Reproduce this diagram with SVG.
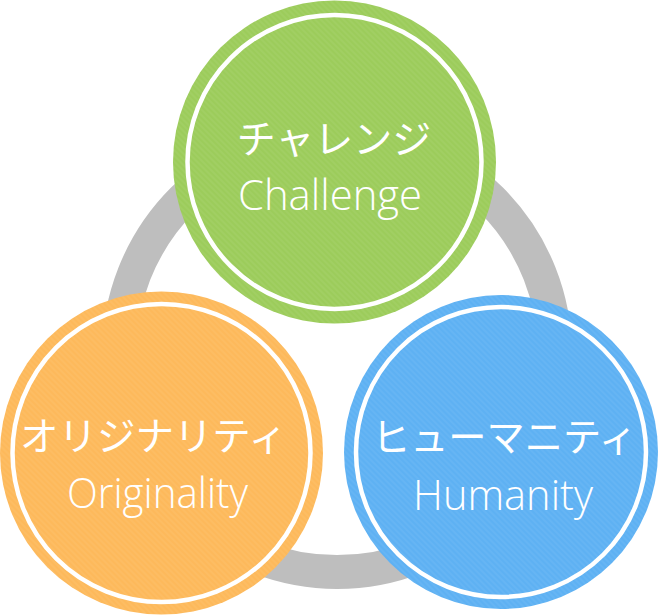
<svg xmlns="http://www.w3.org/2000/svg" width="666" height="616" viewBox="0 0 666 616">
  <style>
    .ring { fill: none; stroke: #bebebe; stroke-width: 34; }
    .inner { fill: none; stroke: #ffffff; stroke-width: 4.5; }
    .jp { font-family: "Noto Sans CJK JP", "Noto Sans", sans-serif; font-size: 39px; fill: #ffffff; text-anchor: middle; }
    .en { font-family: "Open Sans", "Liberation Sans", sans-serif; font-weight: 300; font-size: 43px; fill: #ffffff; text-anchor: middle; }
  </style>
  <defs>
    <pattern id="stripes" width="4" height="4" patternUnits="userSpaceOnUse" patternTransform="rotate(-45)">
      <rect x="0" y="0" width="2" height="4" fill="#ffffff" fill-opacity="0.05"/>
    </pattern>
  </defs>
  <rect width="666" height="616" fill="#ffffff"/>
  <g id="connectors">
    <circle class="ring" cx="337" cy="354" r="218"/>
  </g>
  <g id="challenge">
    <circle cx="334.5" cy="162" r="161.5" fill="#9ccc5b"/>
    <circle cx="334.5" cy="162" r="161.5" fill="url(#stripes)"/>
    <circle class="inner" cx="334.5" cy="162" r="147"/>
    <text class="jp" x="334" y="153">チャレンジ</text>
    <text class="en" x="330" y="210" textLength="184" lengthAdjust="spacingAndGlyphs">Challenge</text>
  </g>
  <g id="originality">
    <circle cx="161.5" cy="453" r="161.5" fill="#fdb95b"/>
    <circle cx="161.5" cy="453" r="161.5" fill="url(#stripes)"/>
    <circle class="inner" cx="161.5" cy="453" r="149"/>
    <text class="jp" x="153.5" y="450" font-size="38" textLength="267" lengthAdjust="spacingAndGlyphs">オリジナリティ</text>
    <text class="en" x="157.5" y="508" textLength="181" lengthAdjust="spacingAndGlyphs">Originality</text>
  </g>
  <g id="humanity">
    <circle cx="501" cy="452" r="157" fill="#5eb1f3"/>
    <circle cx="501" cy="452" r="157" fill="url(#stripes)"/>
    <circle class="inner" cx="501" cy="452" r="145"/>
    <text class="jp" x="504.5" y="451" font-size="38" textLength="265" lengthAdjust="spacingAndGlyphs">ヒューマニティ</text>
    <text class="en" x="503" y="510" textLength="180" lengthAdjust="spacingAndGlyphs">Humanity</text>
  </g>
</svg>
